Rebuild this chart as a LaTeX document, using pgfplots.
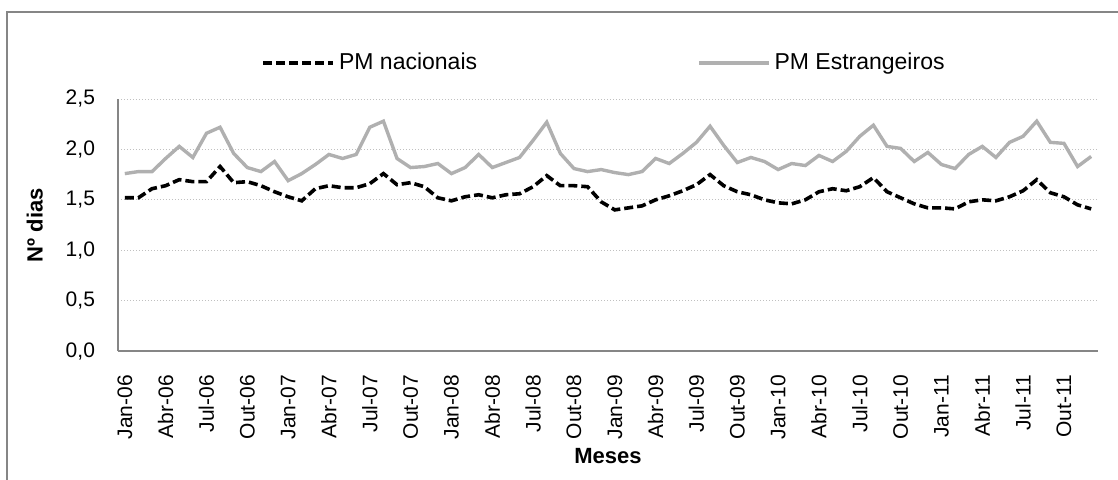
\documentclass[border=0pt]{standalone}
\usepackage{fontspec}
\setmainfont{Liberation Sans}
\usepackage{pgfplots}
\pgfplotsset{compat=1.18}
\definecolor{axisgray}{HTML}{868686}
\definecolor{gridgray}{HTML}{C0C0C0}
\definecolor{estgray}{HTML}{B0B0B0}

\pgfplotstableread{
i nac est
0 1.52 1.76
1 1.52 1.78
2 1.61 1.78
3 1.64 1.91
4 1.70 2.03
5 1.68 1.92
6 1.68 2.16
7 1.83 2.22
8 1.67 1.96
9 1.68 1.82
10 1.64 1.78
11 1.58 1.88
12 1.53 1.69
13 1.49 1.76
14 1.61 1.85
15 1.64 1.95
16 1.62 1.91
17 1.62 1.95
18 1.66 2.22
19 1.76 2.28
20 1.65 1.91
21 1.67 1.82
22 1.63 1.83
23 1.52 1.86
24 1.49 1.76
25 1.53 1.82
26 1.55 1.95
27 1.52 1.82
28 1.55 1.87
29 1.56 1.92
30 1.63 2.09
31 1.74 2.27
32 1.64 1.96
33 1.64 1.81
34 1.63 1.78
35 1.48 1.80
36 1.40 1.77
37 1.42 1.75
38 1.44 1.78
39 1.50 1.91
40 1.54 1.86
41 1.59 1.96
42 1.65 2.07
43 1.75 2.23
44 1.64 2.04
45 1.58 1.87
46 1.55 1.92
47 1.50 1.88
48 1.47 1.80
49 1.46 1.86
50 1.50 1.84
51 1.58 1.94
52 1.61 1.88
53 1.59 1.98
54 1.63 2.13
55 1.72 2.24
56 1.58 2.03
57 1.52 2.01
58 1.46 1.88
59 1.42 1.97
60 1.42 1.85
61 1.41 1.81
62 1.48 1.95
63 1.50 2.03
64 1.49 1.92
65 1.53 2.07
66 1.59 2.13
67 1.70 2.28
68 1.57 2.07
69 1.53 2.06
70 1.45 1.83
71 1.41 1.93
}\datatable

\begin{document}
\begin{tikzpicture}
% 1 px of the reference = 0.5pt
\useasboundingbox (-59pt,-64pt) rectangle (500pt,175.5pt);
\draw[axisgray, line width=1pt] (-55.5pt,-70pt) -- (-55.5pt,169.5pt) -- (505pt,169.5pt);
\begin{axis}[
    at={(0,0)}, anchor=south west,
    scale only axis,
    width=490pt, height=126pt,
    xmin=-0.5, xmax=71.5,
    ymin=0, ymax=2.5,
    ytick={0,0.5,1,1.5,2,2.5},
    xtick={0,3,...,69},
    xticklabels={Jan-06,Abr-06,Jul-06,Out-06,Jan-07,Abr-07,Jul-07,Out-07,Jan-08,Abr-08,Jul-08,Out-08,Jan-09,Abr-09,Jul-09,Out-09,Jan-10,Abr-10,Jul-10,Out-10,Jan-11,Abr-11,Jul-11,Out-11},
    axis x line*=bottom, axis y line*=left,
    axis line style={draw=axisgray, line width=1pt},
    major tick length=0pt,
    ymajorgrids,
    grid style={gridgray, line width=0.5pt, dash pattern=on 0.6pt off 0.9pt},
    /pgf/number format/assume math mode=true,
    yticklabel={\pgfmathprintnumber[fixed, fixed zerofill, precision=1, use comma]{\tick}},
    ticklabel style={font=\fontsize{10.5}{12}\selectfont, text=black},
    xticklabel style={rotate=90, anchor=east},
    xticklabel shift=8.5pt,
    yticklabel style={xshift=-8pt},
    xlabel={Meses}, ylabel={Nº dias},
    label style={font=\bfseries\fontsize{11}{13}\selectfont},
    xlabel style={at={(axis description cs:0.5,-0.417)}, anchor=center},
    ylabel style={at={(axis description cs:-0.085,0.5)}, anchor=center, rotate=0},
    legend columns=2,
    legend style={draw=none, fill=none, at={(axis description cs:0.497,1.143)}, anchor=center,
        font=\fontsize{11.5}{13}\selectfont,
        /tikz/every even column/.append style={column sep=108pt}},
    legend image code/.code={\draw[#1] (0pt,0pt) -- (35pt,0pt);},
]
\addplot[black, line width=1.8pt, dash pattern=on 4.5pt off 2pt] table[x=i, y=nac] {\datatable};
\addlegendentry{PM nacionais}
\addplot[estgray, line width=1.7pt] table[x=i, y=est] {\datatable};
\addlegendentry{PM Estrangeiros}
\end{axis}
\end{tikzpicture}
\end{document}
